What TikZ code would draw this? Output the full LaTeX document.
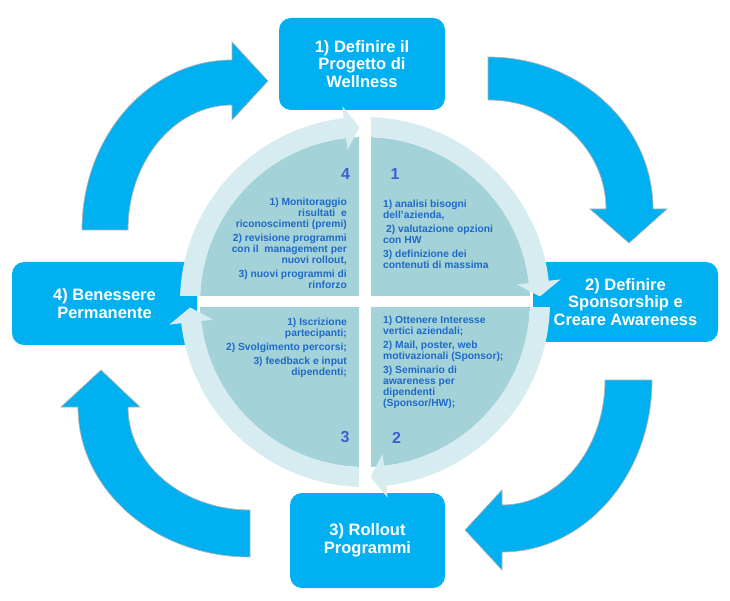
\documentclass[tikz,border=0pt]{standalone}
\usepackage{fontspec}
\setmainfont{Liberation Sans}
\definecolor{boxblue}{RGB}{0,176,240}
\definecolor{qteal}{RGB}{163,211,217}
\definecolor{qlight}{RGB}{215,236,240}
\definecolor{qtext}{RGB}{31,105,200}
\definecolor{qnum}{RGB}{60,95,205}
\begin{document}
\begin{tikzpicture}[x=1pt,y=1pt,
  stepbox/.style={fill=boxblue, rounded corners=12pt, draw=none, inner sep=0pt,
    text=white, font=\fontsize{16.5}{17.5}\selectfont\bfseries, align=center},
  bigarrow/.style={fill=boxblue, draw=black!30, line width=0.7pt},
  qtxt/.style={text=qtext, font=\fontsize{10.3}{11}\selectfont\bfseries, inner sep=0pt},
  qnumber/.style={text=qnum, font=\fontsize{16}{16}\selectfont\bfseries, inner sep=0pt},
]
\useasboundingbox (0,0) rectangle (730,600);

% step boxes
\node[stepbox, minimum width=166pt, minimum height=92pt] (b1) at (362,536) {1) Definire il\\Progetto di\\Wellness};
\node[stepbox, minimum width=185pt, minimum height=80pt] (b2) at (625.5,298) {2) Definire\\Sponsorship e\\Creare Awareness};
\node[stepbox, minimum width=155pt, minimum height=95pt] (b3) at (367.5,59.5) {3) Rollout\\Programmi};
\node[stepbox, minimum width=185pt, minimum height=83pt] (b4) at (104.5,296.5) {4) Benessere\\Permanente};

% big curved arrows
\draw[bigarrow] (82,370) arc[start angle=180, end angle=90, x radius=150, y radius=170]
  -- (232,558) -- (268,519) -- (232,480) -- (232,495)
  arc[start angle=90, end angle=180, x radius=104, y radius=125] -- cycle;
\draw[bigarrow] (488,543) arc[start angle=90, end angle=0, x radius=165, y radius=152]
  -- (667,391) -- (629,357) -- (590,391) -- (606,391)
  arc[start angle=0, end angle=90, x radius=118, y radius=109] -- cycle;
\draw[bigarrow] (652,220) arc[start angle=0, end angle=-90, x radius=150, y radius=172]
  -- (502,30) -- (465,70) -- (502,110) -- (502,95)
  arc[start angle=-90, end angle=0, x radius=103, y radius=125] -- cycle;
\draw[bigarrow] (250,43) arc[start angle=-90, end angle=-180, x radius=172, y radius=150]
  -- (61,193) -- (101,230) -- (140,193) -- (128,193)
  arc[start angle=180, end angle=270, x radius=122, y radius=103] -- cycle;

% circle quadrants with ring arrows
\foreach \r in {0,-90,-180,-270} {
  \begin{scope}[shift={(365,298)}, rotate=\r]
    \clip (6,6) rectangle (260,260);
    \fill[qteal] (0,0) circle[radius=165];
    \fill[qlight] (90:185) arc[start angle=90, end angle=6.6, radius=185]
      -- (6.6:197) -- (1.8:175) -- (6.6:153) -- (6.6:165)
      arc[start angle=6.6, end angle=90, radius=165] -- cycle;
  \end{scope}
}

% quadrant texts
\node[qtxt, anchor=north east, align=right] (q4t) at (347,402.5)
  {1) Monitoraggio\\ risultati\ \ e\\ riconoscimenti (premi)\\[3pt]
   2) revisione programmi\\ con il\ \ management per\\ nuovi rollout,\\[3pt]
   3) nuovi programmi di\\ rinforzo};
\node[qtxt, anchor=north west, align=left] (q1t) at (383,400.5)
  {1) analisi bisogni\\ dell'azienda,\\[3pt]
   \ 2) valutazione opzioni\\ con HW\\[3pt]
   3) definizione dei\\ contenuti di massima};
\node[qtxt, anchor=north east, align=right] (q3t) at (347,282.5)
  {1) Iscrizione\\ partecipanti;\\[3pt]
   2) Svolgimento percorsi;\\[3pt]
   3) feedback e input\\ dipendenti;};
\node[qtxt, anchor=north west, align=left] (q2t) at (383,284.5)
  {1) Ottenere Interesse\\ vertici aziendali;\\[3pt]
   2) Mail, poster, web\\ motivazionali (Sponsor);\\[3pt]
   3) Seminario di\\ awareness per\\ dipendenti\\ (Sponsor/HW);};

% quadrant numbers
\node[qnumber] (n4) at (345.5,426.5) {4};
\node[qnumber] (n1) at (395,426.5) {1};
\node[qnumber] (n3) at (345,162.5) {3};
\node[qnumber] (n2) at (396.5,162.5) {2};
\end{tikzpicture}
\end{document}
